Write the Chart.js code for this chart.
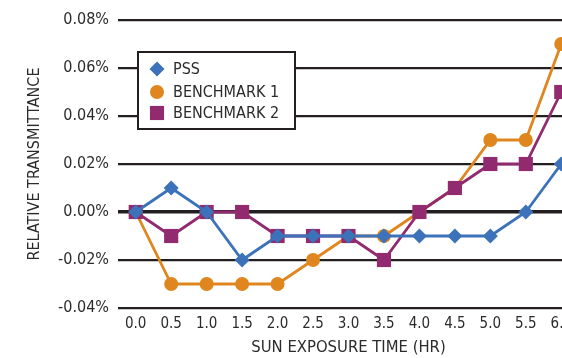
<!DOCTYPE html>
<html>
<head>
<meta charset="utf-8">
<script src="https://cdn.jsdelivr.net/npm/chart.js@4.4.1/dist/chart.umd.min.js"></script>
<style>
  html, body { margin: 0; padding: 0; background: #fff; overflow: hidden; }
  #wrap { width: 592px; height: 358px; }
</style>
</head>
<body>
<div id="wrap"><canvas id="chart" width="592" height="358"></canvas></div>
<script>
// horas de exposição ao sol (eixo X)
var horas = ['0.0', '0.5', '1.0', '1.5', '2.0', '2.5', '3.0', '3.5', '4.0', '4.5', '5.0', '5.5', '6.0'];
// marcas do eixo Y (em %)
var yTicks = [-0.04, -0.02, 0.00, 0.02, 0.04, 0.06, 0.08];

var pss        = [0, 0.01, 0, -0.02, -0.01, -0.01, -0.01, -0.01, -0.01, -0.01, -0.01, 0, 0.02];
var benchmark1 = [0, -0.03, -0.03, -0.03, -0.03, -0.02, -0.01, -0.01, 0, 0.01, 0.03, 0.03, 0.07];
var benchmark2 = [0, -0.01, 0, 0, -0.01, -0.01, -0.01, -0.02, 0, 0.01, 0.02, 0.02, 0.05];

var FONTE = "'Liberation Sans Narrow', 'Arial Narrow', 'DejaVu Sans Condensed', sans-serif";
var TEXTO = '#2b2b2b';
var AZUL = '#3b72b9', LARANJA = '#e0861f', ROXO = '#922a6f';

// legenda com caixa, desenhada dentro da área do gráfico
var legendaCaixa = {
  id: 'legendaCaixa',
  afterDraw: function (chart) {
    var ctx = chart.ctx;
    var x = 138, y = 52, w = 157, h = 77;
    ctx.save();
    ctx.fillStyle = '#fff';
    ctx.fillRect(x, y, w, h);
    ctx.lineWidth = 2;
    ctx.strokeStyle = '#231f20';
    ctx.strokeRect(x, y, w, h);
    ctx.font = '16px ' + FONTE;
    ctx.textBaseline = 'middle';
    var linhas = [69, 92, 113];
    chart.data.datasets.forEach(function (ds, i) {
      var cy = linhas[i];
      ctx.fillStyle = ds.backgroundColor;
      ctx.strokeStyle = ds.backgroundColor;
      Chart.helpers.drawPoint(ctx, { pointStyle: ds.pointStyle, rotation: 0, radius: ds.pointRadius, borderWidth: 0 }, 157, cy);
      ctx.fillStyle = TEXTO;
      ctx.fillText(ds.label, 173, cy + 1);
    });
    ctx.restore();
  }
};

function serie(label, dados, cor, estilo, raio, ordem) {
  return {
    label: label,
    data: dados,
    borderColor: cor,
    backgroundColor: cor,
    borderWidth: 2.8,
    pointStyle: estilo,
    pointRadius: raio,
    pointHoverRadius: raio,
    pointBorderWidth: 0,
    pointBackgroundColor: cor,
    tension: 0,
    order: ordem
  };
}

new Chart(document.getElementById('chart').getContext('2d'), {
  type: 'line',
  data: {
    labels: horas,
    datasets: [
      serie('PSS', pss, AZUL, 'rectRot', 7.5, 1),
      serie('BENCHMARK 1', benchmark1, LARANJA, 'circle', 7, 3),
      serie('BENCHMARK 2', benchmark2, ROXO, 'rect', 10, 2)
    ]
  },
  options: {
    responsive: false,
    animation: false,
    // a área do gráfico continua além da janela (o 6.0 fica cortado, como no original)
    layout: { padding: { top: 20, right: 13, left: 0, bottom: 0 } },
    plugins: { legend: { display: false }, tooltip: { enabled: false } },
    scales: {
      x: {
        offset: true,
        grid: { display: false, drawTicks: false },
        border: { display: false },
        ticks: { color: TEXTO, font: { family: FONTE, size: 15 }, padding: 7, maxRotation: 0, autoSkip: false },
        title: { display: true, text: 'SUN EXPOSURE TIME (HR)', color: TEXTO, font: { family: FONTE, size: 16.5 }, padding: { top: 0, bottom: 0 } },
        afterFit: function (s) { s.height = 50; }
      },
      y: {
        min: yTicks[0],
        max: yTicks[yTicks.length - 1],
        afterBuildTicks: function (s) { s.ticks = yTicks.map(function (v) { return { value: v }; }); },
        grid: {
          color: '#231f20',
          drawTicks: false,
          lineWidth: function (c) { return Math.abs(c.tick.value) < 1e-9 ? 3.5 : 2.2; }
        },
        border: { display: false },
        ticks: {
          color: TEXTO,
          font: { family: FONTE, size: 16 },
          padding: 9,
          callback: function (v) { return v.toFixed(2) + '%'; }
        },
        title: { display: true, text: 'RELATIVE TRANSMITTANCE', color: TEXTO, font: { family: FONTE, size: 16 }, padding: { top: 25.5, bottom: 0 } },
        afterFit: function (s) { s.width = 118; }
      }
    }
  },
  plugins: [legendaCaixa]
});
</script>
</body>
</html>
